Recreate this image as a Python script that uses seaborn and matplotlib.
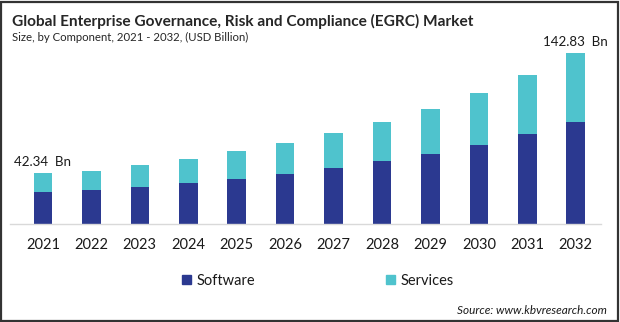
import matplotlib
matplotlib.use("Agg")
import matplotlib.pyplot as plt
from matplotlib.patches import Rectangle, Patch
import seaborn as sns
import pandas as pd

years = ["2021", "2022", "2023", "2024", "2025", "2026", "2027", "2028", "2029", "2030", "2031", "2032"]
software = [26.9, 28.6, 31.1, 34.4, 37.8, 42.0, 47.0, 52.9, 58.8, 66.4, 75.6, 85.7]
services = [15.44, 15.9, 18.5, 20.2, 23.5, 26.0, 29.4, 32.8, 37.8, 43.6, 49.6, 57.13]
labels = {0: "42.34  Bn", 11: "142.83  Bn"}

SW_COLOR = "#2B3990"
SV_COLOR = "#4FC3CD"

sns.set_theme(style="white")
plt.rcParams["font.family"] = ["Lato", "DejaVu Sans"]

df = pd.DataFrame({"year": years, "software": software, "services": services})
df["total"] = df["software"] + df["services"]

W, H = 620, 322
fig = plt.figure(figsize=(W / 100, H / 100), dpi=100)
ax = fig.add_axes([10 / W, 98 / H, 591 / W, 191 / H])

sns.barplot(data=df, x="year", y="total", color=SV_COLOR, width=0.385,
            saturation=1, ax=ax, edgecolor="none")
sns.barplot(data=df, x="year", y="software", color=SW_COLOR, width=0.385,
            saturation=1, ax=ax, edgecolor="none")

ax.set_xlim(-0.68, 11.52)
ax.set_ylim(0, 160)
ax.set_xlabel("")
ax.set_ylabel("")
ax.set_yticks([])
for s in ["top", "right", "left"]:
    ax.spines[s].set_visible(False)
ax.spines["bottom"].set_color("#d9d9d9")
ax.spines["bottom"].set_linewidth(1)
ax.tick_params(axis="x", length=0, pad=10, labelsize=10.5, labelcolor="#1a1a1a")

for i, txt in labels.items():
    ax.annotate(txt, (i, df["total"][i]), xytext=(0, 4), textcoords="offset points",
                ha="center", va="bottom", fontsize=9.6, color="#1a1a1a")

handles = [Patch(color=SW_COLOR, label="Software"), Patch(color=SV_COLOR, label="Services")]
fig.legend(handles=handles, loc="center", bbox_to_anchor=(318 / W, 1 - 281 / H), ncol=2,
           frameon=False, fontsize=10.5, handlelength=0.6, handleheight=0.6,
           handletextpad=0.4, columnspacing=9.0, labelcolor="#1a1a1a")

fig.text(12 / W, 1 - 21 / H, "Global Enterprise Governance, Risk and Compliance (EGRC) Market",
         fontsize=11.1, fontweight="bold", color="#262626", va="center", ha="left")
fig.text(12 / W, 1 - 37.5 / H, "Size, by Component, 2021 - 2032, (USD Billion)",
         fontsize=8.2, color="#262626", va="center", ha="left")
fig.text(607 / W, 1 - 310 / H, "Source: www.kbvresearch.com", fontsize=8.5,
         style="italic", color="#1a1a1a", va="center", ha="right")

fig.patches.append(Rectangle((1 / W, 1 / H), (W - 3) / W, (H - 2.5) / H, transform=fig.transFigure,
                             fill=False, edgecolor="#333333", linewidth=1.6))

fig.savefig("out.png", dpi=100)
